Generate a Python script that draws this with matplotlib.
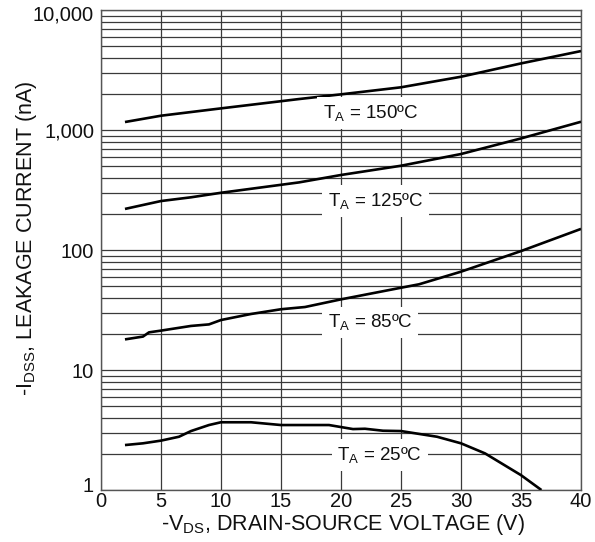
import matplotlib
matplotlib.use("Agg")
import matplotlib.pyplot as plt
from matplotlib.ticker import FixedLocator, NullFormatter
from matplotlib.transforms import ScaledTranslation

plt.rcParams["font.family"] = ["Liberation Sans", "DejaVu Sans"]
plt.rcParams["mathtext.fontset"] = "custom"
plt.rcParams["mathtext.rm"] = "Liberation Sans"
plt.rcParams["mathtext.it"] = "Liberation Sans:italic"
plt.rcParams["mathtext.bf"] = "Liberation Sans:bold"

# Leakage current (nA) versus drain-source voltage (V) at four ambient temperatures
v_150 = [2, 5, 10, 16.5, 20, 25, 30, 35, 40]
i_150 = [1166, 1316, 1515, 1812, 1983, 2270, 2780, 3590, 4550]

v_125 = [2, 5, 7.5, 10, 16.5, 20, 25, 30, 35, 40]
i_125 = [220, 256, 275, 300, 366, 422, 504, 631, 851, 1172]

v_85 = [2, 3.5, 4, 5, 7.5, 9, 10, 12.5, 15, 17, 20, 25, 26.5, 30, 35, 40]
i_85 = [18.0, 19.0, 20.6, 21.3, 23.3, 24.0, 26.1, 29.3, 32.1, 33.5, 38.8, 48.5, 51.8, 66, 98, 150]

v_25 = [2, 3.5, 5, 6.5, 7.5, 9, 10, 12.5, 15, 19, 21, 22, 23.5, 25, 28, 30, 32, 35, 36.7]
i_25 = [2.37, 2.45, 2.58, 2.78, 3.1, 3.48, 3.67, 3.67, 3.48, 3.48, 3.22, 3.24, 3.12, 3.1, 2.78, 2.45, 2.02, 1.33, 1.0]

curve_labels = ["T$_{\\mathrm{A}}$ = 150ºC", "T$_{\\mathrm{A}}$ = 125ºC",
                "T$_{\\mathrm{A}}$ = 85ºC", "T$_{\\mathrm{A}}$ = 25ºC"]
label_v = [18.5, 18.9, 18.9, 19.7]
label_i = [1386, 256, 25, 1.96]

x_ticks = [0, 5, 10, 15, 20, 25, 30, 35, 40]
y_ticks = [1, 10, 100, 1000, 10000]
y_tick_labels = ["1", "10", "100", "1,000", "10,000"]

fig = plt.figure(figsize=(5.95, 5.42), dpi=100)
ax = fig.add_axes([0.1697, 0.0959, 0.8068, 0.8856])
ax.set_yscale("log")
ax.set_xlim(0, 40)
ax.set_ylim(1, 10000)

# grid: every 5 V and every 1-2-...-9 step of each decade
minor = [m * 10 ** d for d in range(0, 4) for m in range(2, 10)]
ax.yaxis.set_major_locator(FixedLocator(y_ticks))
ax.yaxis.set_minor_locator(FixedLocator(minor))
ax.yaxis.set_minor_formatter(NullFormatter())
ax.set_yticks(y_ticks)
ax.set_yticklabels(y_tick_labels)
ax.set_xticks(x_ticks)
ax.grid(True, which="both", color="#3a3a3a", linewidth=0.9)
ax.set_axisbelow(True)
ax.tick_params(which="both", length=0, labelsize=14.5, colors="#111111")
ax.tick_params(axis="y", pad=5)
ax.tick_params(axis="x", pad=1.5)
for s in ax.spines.values():
    s.set_color("#555555")
    s.set_linewidth(1.0)

# lift the "1" clear of the "0" below it, drop "10,000" a little from the top edge
ylabels = ax.get_yticklabels()
ylabels[0].set_transform(ylabels[0].get_transform()
                         + ScaledTranslation(0, 0.06, fig.dpi_scale_trans))
ylabels[-1].set_transform(ylabels[-1].get_transform()
                          + ScaledTranslation(0, -0.03, fig.dpi_scale_trans))

for v, i in [(v_150, i_150), (v_125, i_125), (v_85, i_85), (v_25, i_25)]:
    ax.plot(v, i, color="black", linewidth=1.9, solid_capstyle="butt", zorder=3)

for txt, lv, li in zip(curve_labels, label_v, label_i):
    ax.text(lv, li, txt, ha="left", va="center", fontsize=13.5, color="#111111",
            bbox=dict(boxstyle="square,pad=0.3", fc="white", ec="none"), zorder=4)

fig.text(343 / 595, 1 - 530 / 542, "-V$_{\\mathrm{DS}}$, DRAIN-SOURCE VOLTAGE (V)",
         fontsize=15.5, color="#111111", ha="center", va="baseline")
fig.text(32 / 595, 1 - 238 / 542, "-I$_{\\mathrm{DSS}}$, LEAKAGE CURRENT (nA)",
         fontsize=15.5, color="#111111", ha="center", va="baseline",
         rotation=90, rotation_mode="anchor")

fig.savefig("out.png", dpi=100, facecolor="white")
